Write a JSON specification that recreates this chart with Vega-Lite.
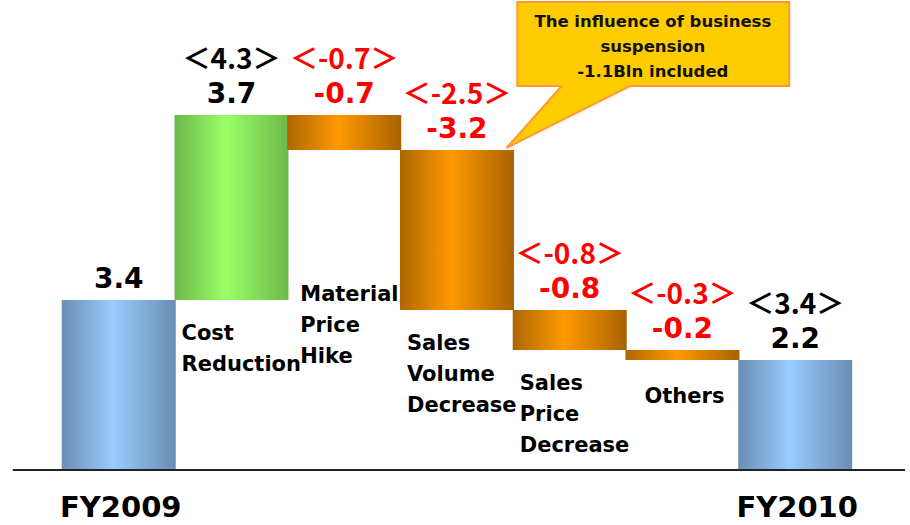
{
  "$schema": "https://vega.github.io/schema/vega-lite/v6.json",
  "width": 910,
  "height": 525,
  "padding": 0,
  "autosize": {"type": "none"},
  "config": {"view": {"stroke": null}, "font": "DejaVu Sans"},
  "datasets": {
    "steps": [
      {"item": "FY2009", "pos": 0, "type": "total", "lo": 0, "hi": 3.4, "value": "3.4", "bracket": ""},
      {"item": "Cost Reduction", "pos": 1, "type": "increase", "lo": 3.4, "hi": 7.1, "value": "3.7", "bracket": "＜4.3＞", "name": ["Cost", "Reduction"]},
      {"item": "Material Price Hike", "pos": 2, "type": "decrease", "lo": 6.4, "hi": 7.1, "value": "-0.7", "bracket": "＜-0.7＞", "name": ["Material", "Price", "Hike"]},
      {"item": "Sales Volume Decrease", "pos": 3, "type": "decrease", "lo": 3.2, "hi": 6.4, "value": "-3.2", "bracket": "＜-2.5＞", "name": ["Sales", "Volume", "Decrease"]},
      {"item": "Sales Price Decrease", "pos": 4, "type": "decrease", "lo": 2.4, "hi": 3.2, "value": "-0.8", "bracket": "＜-0.8＞", "name": ["Sales", "Price", "Decrease"]},
      {"item": "Others", "pos": 5, "type": "decrease", "lo": 2.2, "hi": 2.4, "value": "-0.2", "bracket": "＜-0.3＞", "name": ["Others"]},
      {"item": "FY2010", "pos": 6, "type": "total", "lo": 0, "hi": 2.2, "value": "2.2", "bracket": "＜3.4＞"}
    ],
    "calloutBox": [{"cx": 3.535, "cx2": 5.947, "cy": 9.36, "cy2": 7.68}],
    "calloutTail": [
      {"cx": 3.439, "top": 6.44, "bot": 6.44},
      {"cx": 3.93, "top": 7.72, "bot": 6.995},
      {"cx": 4.535, "top": 7.72, "bot": 7.70}
    ],
    "calloutEdge": [
      {"cx": 3.93, "cy": 7.68, "k": 0},
      {"cx": 3.439, "cy": 6.44, "k": 1},
      {"cx": 4.535, "cy": 7.68, "k": 2}
    ],
    "calloutText": [{"cx": 4.737, "cy": 9.12, "lines": ["The influence of business", "suspension", "-1.1Bln included"]}],
    "base": [{"v": 0, "from": -0.94, "to": 6.974}]
  },
  "data": {"name": "steps"},
  "layer": [
    {
      "transform": [{"filter": "datum.type === 'total'"}],
      "mark": {"type": "bar", "orient": "vertical", "width": 114,
        "fill": {"gradient": "linear", "x1": 0, "y1": 0, "x2": 1, "y2": 0,
          "stops": [{"offset": 0, "color": "#6A8DB3"}, {"offset": 0.45, "color": "#99CCFF"}, {"offset": 1, "color": "#6A8DB3"}]}},
      "encoding": {
        "x": {"field": "pos", "type": "quantitative", "scale": {"domain": [-1.009, 6.974], "nice": false, "zero": false}, "axis": null},
        "y": {"field": "lo", "type": "quantitative", "scale": {"domain": [-1.1, 9.4], "nice": false, "zero": false}, "axis": null},
        "y2": {"field": "hi"}
      }
    },
    {
      "transform": [{"filter": "datum.type === 'increase'"}],
      "mark": {"type": "bar", "orient": "vertical", "width": 114,
        "fill": {"gradient": "linear", "x1": 0, "y1": 0, "x2": 1, "y2": 0,
          "stops": [{"offset": 0, "color": "#6DB84A"}, {"offset": 0.45, "color": "#99FF66"}, {"offset": 1, "color": "#6DB84A"}]}},
      "encoding": {
        "x": {"field": "pos", "type": "quantitative", "scale": {"domain": [-1.009, 6.974], "nice": false, "zero": false}, "axis": null},
        "y": {"field": "lo", "type": "quantitative", "scale": {"domain": [-1.1, 9.4], "nice": false, "zero": false}, "axis": null},
        "y2": {"field": "hi"}
      }
    },
    {
      "transform": [{"filter": "datum.type === 'decrease'"}],
      "mark": {"type": "bar", "orient": "vertical", "width": 114,
        "fill": {"gradient": "linear", "x1": 0, "y1": 0, "x2": 1, "y2": 0,
          "stops": [{"offset": 0, "color": "#AE6600"}, {"offset": 0.45, "color": "#FF9900"}, {"offset": 1, "color": "#A86200"}]}},
      "encoding": {
        "x": {"field": "pos", "type": "quantitative", "scale": {"domain": [-1.009, 6.974], "nice": false, "zero": false}, "axis": null},
        "y": {"field": "lo", "type": "quantitative", "scale": {"domain": [-1.1, 9.4], "nice": false, "zero": false}, "axis": null},
        "y2": {"field": "hi"}
      }
    },
    {
      "data": {"name": "base"},
      "mark": {"type": "rule", "color": "#222222", "strokeWidth": 2},
      "encoding": {
        "x": {"field": "from", "type": "quantitative", "scale": {"domain": [-1.009, 6.974], "nice": false, "zero": false}, "axis": null},
        "x2": {"field": "to"},
        "y": {"field": "v", "type": "quantitative", "scale": {"domain": [-1.1, 9.4], "nice": false, "zero": false}, "axis": null}
      }
    },
    {
      "data": {"name": "calloutBox"},
      "mark": {"type": "rect", "fill": "#FFCC00", "stroke": "#FF9933", "strokeWidth": 2},
      "encoding": {
        "x": {"field": "cx", "type": "quantitative", "scale": {"domain": [-1.009, 6.974], "nice": false, "zero": false}, "axis": null},
        "x2": {"field": "cx2"},
        "y": {"field": "cy", "type": "quantitative", "scale": {"domain": [-1.1, 9.4], "nice": false, "zero": false}, "axis": null},
        "y2": {"field": "cy2"}
      }
    },
    {
      "data": {"name": "calloutTail"},
      "mark": {"type": "area", "fill": "#FFCC00", "opacity": 1},
      "encoding": {
        "x": {"field": "cx", "type": "quantitative", "scale": {"domain": [-1.009, 6.974], "nice": false, "zero": false}, "axis": null},
        "y": {"field": "top", "type": "quantitative", "scale": {"domain": [-1.1, 9.4], "nice": false, "zero": false}, "axis": null},
        "y2": {"field": "bot"}
      }
    },
    {
      "data": {"name": "calloutEdge"},
      "mark": {"type": "line", "color": "#FF9933", "strokeWidth": 2},
      "encoding": {
        "x": {"field": "cx", "type": "quantitative", "scale": {"domain": [-1.009, 6.974], "nice": false, "zero": false}, "axis": null},
        "y": {"field": "cy", "type": "quantitative", "scale": {"domain": [-1.1, 9.4], "nice": false, "zero": false}, "axis": null},
        "order": {"field": "k", "type": "quantitative"}
      }
    },
    {
      "data": {"name": "calloutText"},
      "mark": {"type": "text", "align": "center", "baseline": "top", "fontSize": 16.5, "fontWeight": "bold", "lineHeight": 25, "color": "#111111"},
      "encoding": {
        "x": {"field": "cx", "type": "quantitative", "scale": {"domain": [-1.009, 6.974], "nice": false, "zero": false}, "axis": null},
        "y": {"field": "cy", "type": "quantitative", "scale": {"domain": [-1.1, 9.4], "nice": false, "zero": false}, "axis": null},
        "text": {"field": "lines", "type": "nominal"}
      }
    },
    {
      "mark": {"type": "text", "align": "center", "baseline": "middle", "dy": -20, "fontSize": 28, "fontWeight": "bold"},
      "encoding": {
        "x": {"field": "pos", "type": "quantitative", "scale": {"domain": [-1.009, 6.974], "nice": false, "zero": false}, "axis": null},
        "y": {"field": "hi", "type": "quantitative", "scale": {"domain": [-1.1, 9.4], "nice": false, "zero": false}, "axis": null},
        "text": {"field": "value", "type": "nominal"},
        "color": {"field": "type", "type": "nominal", "scale": {"domain": ["total", "increase", "decrease"], "range": ["#000000", "#000000", "#FF0000"]}, "legend": null}
      }
    },
    {
      "transform": [{"filter": "datum.bracket !== ''"}],
      "mark": {"type": "text", "align": "center", "baseline": "middle", "dy": -54, "fontSize": 28, "fontWeight": "bold", "font": "Noto Sans CJK JP"},
      "encoding": {
        "x": {"field": "pos", "type": "quantitative", "scale": {"domain": [-1.009, 6.974], "nice": false, "zero": false}, "axis": null},
        "y": {"field": "hi", "type": "quantitative", "scale": {"domain": [-1.1, 9.4], "nice": false, "zero": false}, "axis": null},
        "text": {"field": "bracket", "type": "nominal"},
        "color": {"field": "type", "type": "nominal", "scale": {"domain": ["total", "increase", "decrease"], "range": ["#000000", "#000000", "#FF0000"]}, "legend": null}
      }
    },
    {
      "transform": [{"filter": "datum.pos === 1 || datum.pos === 3 || datum.pos === 4"}],
      "mark": {"type": "text", "align": "left", "baseline": "top", "dx": -50, "dy": 23, "fontSize": 21, "fontWeight": "bold", "lineHeight": 31, "color": "#000000"},
      "encoding": {
        "x": {"field": "pos", "type": "quantitative", "scale": {"domain": [-1.009, 6.974], "nice": false, "zero": false}, "axis": null},
        "y": {"field": "lo", "type": "quantitative", "scale": {"domain": [-1.1, 9.4], "nice": false, "zero": false}, "axis": null},
        "text": {"field": "name", "type": "nominal"}
      }
    },
    {
      "transform": [{"filter": "datum.pos === 2"}],
      "mark": {"type": "text", "align": "left", "baseline": "top", "dx": -44, "fontSize": 21, "fontWeight": "bold", "lineHeight": 31, "color": "#000000"},
      "encoding": {
        "x": {"field": "pos", "type": "quantitative", "scale": {"domain": [-1.009, 6.974], "nice": false, "zero": false}, "axis": null},
        "y": {"datum": 3.72, "type": "quantitative", "scale": {"domain": [-1.1, 9.4], "nice": false, "zero": false}, "axis": null},
        "text": {"field": "name", "type": "nominal"}
      }
    },
    {
      "transform": [{"filter": "datum.pos === 5"}],
      "mark": {"type": "text", "align": "center", "baseline": "top", "dx": 2, "dy": 26, "fontSize": 21, "fontWeight": "bold", "lineHeight": 31, "color": "#000000"},
      "encoding": {
        "x": {"field": "pos", "type": "quantitative", "scale": {"domain": [-1.009, 6.974], "nice": false, "zero": false}, "axis": null},
        "y": {"field": "lo", "type": "quantitative", "scale": {"domain": [-1.1, 9.4], "nice": false, "zero": false}, "axis": null},
        "text": {"field": "name", "type": "nominal"}
      }
    },
    {
      "transform": [{"filter": "datum.type === 'total'"}],
      "mark": {"type": "text", "align": "center", "baseline": "middle", "dx": 2, "dy": 38, "fontSize": 29, "fontWeight": "bold", "color": "#000000"},
      "encoding": {
        "x": {"field": "pos", "type": "quantitative", "scale": {"domain": [-1.009, 6.974], "nice": false, "zero": false}, "axis": null},
        "y": {"field": "lo", "type": "quantitative", "scale": {"domain": [-1.1, 9.4], "nice": false, "zero": false}, "axis": null},
        "text": {"field": "item", "type": "nominal"}
      }
    }
  ]
}
